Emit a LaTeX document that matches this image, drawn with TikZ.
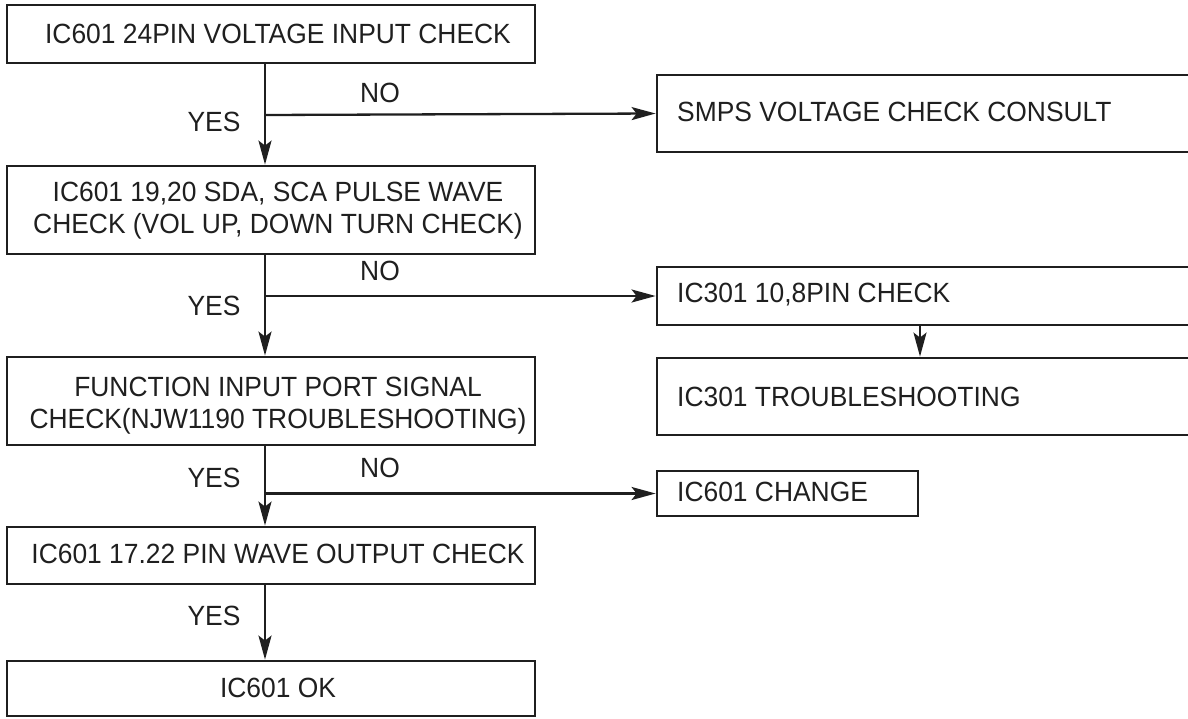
\documentclass[tikz,border=0pt]{standalone}
\usepackage{fontspec}
\setmainfont[FakeStretch=0.95]{Liberation Sans}
\usetikzlibrary{arrows.meta}
\begin{document}
\begin{tikzpicture}[x=1pt,y=-1pt,
  box/.style={draw=black!88, line width=2.8pt, rectangle, inner sep=0pt},
  txt/.style={inner sep=0pt, font=\fontsize{27.8}{32}\selectfont, text=black!88, align=center},
  ltxt/.style={inner sep=0pt, font=\fontsize{27.8}{32}\selectfont, text=black!88, anchor=west},
  conn/.style={draw=black!88, line width=2.3pt},
  arr/.style={conn, -{Stealth[length=24pt,width=13pt,inset=5pt]}}]
\useasboundingbox (0,0) rectangle (1188,718);
\clip (0,0) rectangle (1188,718);
% left column boxes
\node[box, minimum width=528pt, minimum height=58pt] (b1) at (271,34) {};
\node[txt] (t1) at (278,34) {IC601 24PIN VOLTAGE INPUT CHECK};
\node[box, minimum width=528pt, minimum height=88pt] (b3) at (271,210) {};
\node[txt] (t3) at (278,211) {IC601 19,20 SDA, SCA PULSE WAVE\\CHECK (VOL UP, DOWN TURN CHECK)};
\node[box, minimum width=528pt, minimum height=88pt] (b6) at (271,401) {};
\node[txt] (t6) at (278,406) {FUNCTION INPUT PORT SIGNAL\\CHECK(NJW1190 TROUBLESHOOTING)};
\node[box, minimum width=528pt, minimum height=57pt] (b8) at (271,555.5) {};
\node[txt] (t8) at (278,554) {IC601 17.22 PIN WAVE OUTPUT CHECK};
\node[box, minimum width=528pt, minimum height=55pt] (b9) at (271,688.5) {};
\node[txt] (t9) at (278,688) {IC601 OK};
% right column boxes
\node[box, minimum width=543pt, minimum height=77pt] (b2) at (928.5,113.5) {};
\node[ltxt] (t2) at (677,112) {SMPS VOLTAGE CHECK CONSULT};
\node[box, minimum width=543pt, minimum height=58pt] (b4) at (928.5,296) {};
\node[ltxt] (t4) at (677,295) {IC301 10,8PIN CHECK};
\node[box, minimum width=543pt, minimum height=77pt] (b5) at (928.5,396.5) {};
\node[ltxt] (t5) at (677,397) {IC301 TROUBLESHOOTING};
\node[box, minimum width=261pt, minimum height=45pt] (b7) at (787.5,493.5) {};
\node[ltxt] (t7) at (677,492) {IC601 CHANGE};
% junctions
\coordinate (j1) at (265,115);
\coordinate (j2) at (265,296);
\coordinate (j3) at (265,493.5);
\coordinate (j4) at (920,0);
% connectors
\draw[arr] (j1 |- b1.south) -- (j1 |- b3.north);
\draw[arr] (j1) -- (b2.west);
\draw[arr] (j2 |- b3.south) -- (j2 |- b6.north);
\draw[arr] (j2) -- (b4.west);
\draw[arr] (j4 |- b4.south) -- (j4 |- b5.north);
\draw[arr] (j3 |- b6.south) -- (j3 |- b8.north);
\draw[arr] (j3) -- (b7.west);
\draw[arr] (j3 |- b8.south) -- (j3 |- b9.north);
% labels
\node[txt] (no1) at (380,93) {NO};
\node[txt] (yes1) at (214,122) {YES};
\node[txt] (no2) at (380,271) {NO};
\node[txt] (yes2) at (214,306) {YES};
\node[txt] (no3) at (380,468) {NO};
\node[txt] (yes3) at (214,478) {YES};
\node[txt] (yes4) at (214,616) {YES};
\end{tikzpicture}
\end{document}
